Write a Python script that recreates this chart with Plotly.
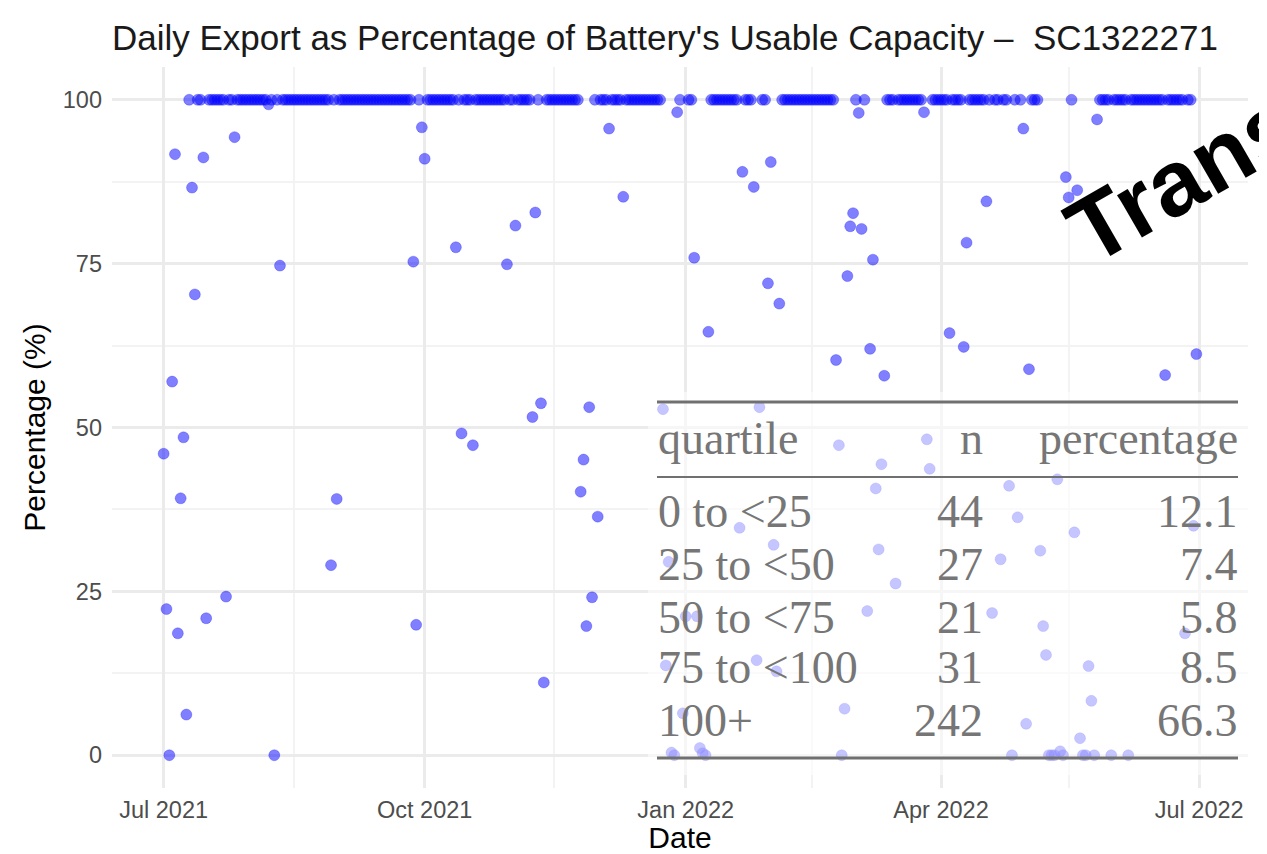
import pandas as pd
import plotly.graph_objects as go

# days that were below a full battery; every other day of the year sat at 100 %
low_dates = [
    "2021-07-01", "2021-07-02", "2021-07-03", "2021-07-04", "2021-07-05", "2021-07-06",
    "2021-07-07", "2021-07-08", "2021-07-09", "2021-07-11", "2021-07-12", "2021-07-15",
    "2021-07-16", "2021-07-23", "2021-07-26", "2021-08-07", "2021-08-09", "2021-08-11",
    "2021-08-29", "2021-08-31", "2021-09-27", "2021-09-28", "2021-09-30", "2021-10-01",
    "2021-10-12", "2021-10-14", "2021-10-18", "2021-10-30", "2021-11-02", "2021-11-08",
    "2021-11-09", "2021-11-11", "2021-11-12", "2021-11-25", "2021-11-26", "2021-11-27",
    "2021-11-28", "2021-11-29", "2021-12-01", "2021-12-05", "2021-12-10", "2021-12-24",
    "2021-12-25", "2021-12-26", "2021-12-27", "2021-12-28", "2021-12-29", "2021-12-31",
    "2022-01-01", "2022-01-04", "2022-01-05", "2022-01-06", "2022-01-07", "2022-01-08",
    "2022-01-09", "2022-01-20", "2022-01-21", "2022-01-25", "2022-01-26", "2022-01-27",
    "2022-01-30", "2022-01-31", "2022-02-01", "2022-02-02", "2022-02-03", "2022-02-23",
    "2022-02-24", "2022-02-25", "2022-02-26", "2022-02-27", "2022-02-28", "2022-03-01",
    "2022-03-03", "2022-03-04", "2022-03-06", "2022-03-07", "2022-03-08", "2022-03-09",
    "2022-03-10", "2022-03-11", "2022-03-12", "2022-03-16", "2022-03-26", "2022-03-27",
    "2022-03-28", "2022-04-04", "2022-04-09", "2022-04-10", "2022-04-17", "2022-04-19",
    "2022-04-22", "2022-04-25", "2022-04-26", "2022-04-28", "2022-04-30", "2022-05-01",
    "2022-05-02", "2022-05-06", "2022-05-07", "2022-05-08", "2022-05-09", "2022-05-10",
    "2022-05-11", "2022-05-12", "2022-05-13", "2022-05-14", "2022-05-15", "2022-05-16",
    "2022-05-18", "2022-05-19", "2022-05-20", "2022-05-21", "2022-05-22", "2022-05-23",
    "2022-05-24", "2022-05-25", "2022-05-26", "2022-05-31", "2022-06-06", "2022-06-19",
    "2022-06-26", "2022-06-29", "2022-06-30",
]
low_pct = [
    46.0, 22.3, 0.0, 57.0, 91.7, 18.6,
    39.2, 48.5, 6.2, 86.6, 70.3, 91.2,
    20.9, 24.2, 94.3, 99.3, 0.0, 74.7,
    29.0, 39.1, 75.3, 19.9, 95.8, 91.0,
    77.5, 49.1, 47.3, 74.9, 80.8, 51.6,
    82.8, 53.7, 11.1, 40.2, 45.1, 19.7,
    53.1, 24.1, 36.4, 95.6, 85.2, 52.8,
    13.7, 29.5, 0.4, 0.0, 98.1, 6.4,
    21.2, 75.9, 21.2, 1.1, 0.3, 0.0,
    64.6, 34.7, 89.0, 86.7, 14.5, 53.1,
    72.0, 90.5, 32.1, 12.8, 68.9, 60.3,
    47.3, 0.0, 7.1, 73.1, 80.7, 82.7,
    98.0, 80.3, 22.0, 62.0, 75.6, 40.7,
    31.4, 44.4, 57.9, 26.2, 98.1, 48.2,
    43.7, 64.4, 62.3, 78.2, 84.5, 21.7,
    29.9, 41.1, 0.0, 36.3, 95.6, 4.8,
    58.9, 31.2, 19.7, 15.3, 0.0, 0.0,
    0.0, 42.1, 0.6, 0.0, 88.2, 85.1,
    34.0, 86.2, 2.6, 0.0, 0.0, 13.6,
    8.3, 0.0, 97.0, 0.0, 0.0, 58.0,
    18.6, 35.0, 61.2,
]
full_pct = 100.0
first_day, last_day = "2021-07-01", "2022-06-30"

quartiles = ["0 to &lt;25", "25 to &lt;50", "50 to &lt;75", "75 to &lt;100", "100+"]
quartile_n = [44, 27, 21, 31, 242]
quartile_share = [12.1, 7.4, 5.8, 8.5, 66.3]

tick_dates = ["2021-07-01", "2021-10-01", "2022-01-01", "2022-04-01", "2022-07-01"]
tick_text = ["Jul 2021", "Oct 2021", "Jan 2022", "Apr 2022", "Jul 2022"]
minor_dates = ["2021-08-16", "2021-11-15 12:00", "2022-02-14 12:00", "2022-05-16"]

daily = pd.Series(full_pct, index=pd.date_range(first_day, last_day))
daily.loc[pd.to_datetime(low_dates)] = low_pct

# the page body adds an 8px margin, so the figure is 8px smaller than the window
W, H = 1259, 846
L, R, T, B = 104, 1240, 59, 780
OFF = 8


def px(x):
    # x measured on the screenshot -> paper fraction
    return (x - OFF - L) / (R - L)


def py(y):
    return (B - (y - OFF)) / (B - T)


fig = go.Figure()
fig.add_trace(go.Scatter(
    x=daily.index, y=daily.values, mode="markers",
    marker=dict(size=11, color="rgba(0,0,255,0.5)",
                line=dict(width=1, color="rgba(0,0,255,0.25)")),
    showlegend=False, hoverinfo="skip",
))

# washed-out panel behind the summary table
fig.add_shape(type="rect", xref="paper", yref="paper", x0=px(648), x1=1.0,
              y0=py(775), y1=py(392), fillcolor="rgba(255,255,255,0.55)",
              line_width=0, layer="above")
for yy, w in [(402, 3), (477, 2), (758, 3)]:
    fig.add_shape(type="line", xref="paper", yref="paper", x0=px(657), x1=px(1238),
                  y0=py(yy), y1=py(yy), line=dict(color="#707070", width=w), layer="above")

tfont = dict(family="Liberation Serif", size=46, color="#767676")
cells = [("quartile", "n", "percentage")] + [
    (q, str(n), f"{s:.1f}") for q, n, s in zip(quartiles, quartile_n, quartile_share)
]
row_y = [438, 512, 564, 617, 667, 720]
for (a, b, c), yy in zip(cells, row_y):
    fig.add_annotation(x=px(657), y=py(yy), text=a, xanchor="left")
    fig.add_annotation(x=px(984), y=py(yy), text=b, xanchor="right")
    fig.add_annotation(x=px(1239), y=py(yy), text=c, xanchor="right")
fig.update_annotations(xref="paper", yref="paper", yanchor="middle", showarrow=False,
                       borderpad=0, font=tfont)

fig.add_annotation(x=px(1183), y=py(177), xref="paper", yref="paper", text="<b>Trans</b>",
                   textangle=-30, showarrow=False, xanchor="center", yanchor="middle",
                   font=dict(family="Liberation Sans", size=93, color="black"))

axis_font = dict(family="Liberation Sans", size=23.5, color="#4d4d4d")
fig.update_layout(
    width=W, height=H,
    margin=dict(l=L, r=W - R, t=T, b=H - B, autoexpand=False),
    plot_bgcolor="white", paper_bgcolor="white",
    font=dict(family="Liberation Sans"),
    title=dict(text="Daily Export as Percentage of Battery's Usable Capacity \u2013\u00a0 SC1322271",
               x=0, xref="paper", xanchor="left", y=1 - 30 / H, yref="container",
               yanchor="middle", font=dict(size=35, color="#1a1a1a")),
    xaxis=dict(type="date", range=["2021-06-12 19:12", "2022-07-18 04:48"],
               tickvals=tick_dates, ticktext=tick_text, tickfont=axis_font,
               showgrid=True, gridcolor="#ebebeb", gridwidth=2.5, zeroline=False,
               ticks="", ticklabelstandoff=5, automargin=False,
               minor=dict(tickvals=minor_dates, showgrid=True, gridcolor="#f3f3f3", gridwidth=1.5),
               title=dict(text="Date", font=dict(size=30, color="black"), standoff=6)),
    yaxis=dict(range=[-5, 105], tickvals=[0, 25, 50, 75, 100], tickfont=axis_font,
               showgrid=True, gridcolor="#ebebeb", gridwidth=2.5, zeroline=False,
               ticks="", ticklabelstandoff=9, automargin=False,
               minor=dict(tick0=0, dtick=12.5, showgrid=True, gridcolor="#f3f3f3", gridwidth=1.5),
               title=dict(text="Percentage (%)", font=dict(size=30, color="black"), standoff=8)),
)

fig.write_html("out.html")
